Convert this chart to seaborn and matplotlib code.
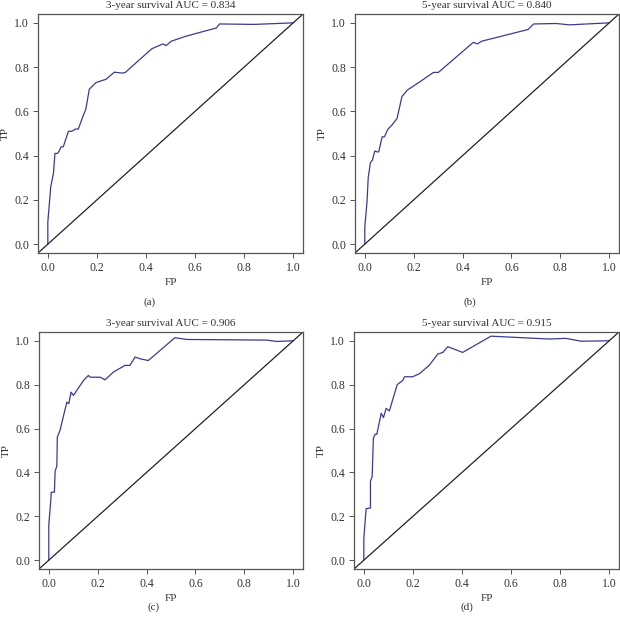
import matplotlib
matplotlib.use("Agg")
import matplotlib.pyplot as plt
import seaborn as sns
import pandas as pd

# ---- data ----
fp_a = [0, 0, 0.012, 0.023, 0.029, 0.040, 0.046, 0.054, 0.063, 0.084, 0.098, 0.112, 0.124, 0.144, 0.155,
        0.169, 0.196, 0.237, 0.271, 0.305, 0.316, 0.373, 0.424, 0.469, 0.482, 0.503, 0.564, 0.687, 0.700,
        0.842, 1.0]
tp_a = [0, 0.10, 0.26, 0.32, 0.41, 0.41, 0.42, 0.44, 0.44, 0.51, 0.51, 0.52, 0.52, 0.58, 0.61,
        0.70, 0.73, 0.745, 0.777, 0.773, 0.776, 0.833, 0.883, 0.905, 0.897, 0.917, 0.94, 0.977, 0.995,
        0.993, 1.0]

fp_b = [0, 0, 0.0095, 0.014, 0.023, 0.031, 0.041, 0.050, 0.057, 0.071, 0.080, 0.095, 0.111, 0.132, 0.152,
        0.175, 0.227, 0.281, 0.301, 0.444, 0.461, 0.478, 0.668, 0.691, 0.783, 0.837, 1.0]
tp_b = [0, 0.076, 0.197, 0.30, 0.368, 0.379, 0.421, 0.417, 0.417, 0.485, 0.485, 0.52, 0.538, 0.568, 0.667,
        0.697, 0.735, 0.776, 0.776, 0.912, 0.905, 0.917, 0.97, 0.995, 0.997, 0.991, 1.0]

fp_c = [0, 0, 0.008, 0.010, 0.023, 0.026, 0.033, 0.035, 0.046, 0.074, 0.082, 0.091, 0.101, 0.114, 0.142,
        0.162, 0.169, 0.210, 0.230, 0.264, 0.312, 0.332, 0.353, 0.373, 0.407, 0.516, 0.564, 0.891, 0.932, 1.0]
tp_c = [0, 0.16, 0.27, 0.31, 0.31, 0.405, 0.43, 0.561, 0.592, 0.721, 0.713, 0.766, 0.751, 0.773, 0.819,
        0.842, 0.834, 0.834, 0.822, 0.857, 0.888, 0.888, 0.926, 0.918, 0.910, 1.014, 1.006, 1.003, 0.997, 1.0]

fp_d = [0, 0, 0.0095, 0.027, 0.027, 0.034, 0.039, 0.046, 0.053, 0.071, 0.080, 0.091, 0.104, 0.136, 0.159,
        0.166, 0.199, 0.227, 0.267, 0.301, 0.322, 0.342, 0.403, 0.518, 0.756, 0.824, 0.885, 1.0]
tp_d = [0, 0.10, 0.235, 0.238, 0.359, 0.382, 0.556, 0.574, 0.574, 0.670, 0.650, 0.692, 0.680, 0.80, 0.82,
        0.836, 0.836, 0.85, 0.889, 0.939, 0.947, 0.973, 0.947, 1.021, 1.008, 1.011, 0.998, 1.0]

titles = ["3-year survival AUC = 0.834", "5-year survival AUC = 0.840",
          "3-year survival AUC = 0.906", "5-year survival AUC = 0.915"]
panel_labels = ["(a)", "(b)", "(c)", "(d)"]
tick_vals = [0.0, 0.2, 0.4, 0.6, 0.8, 1.0]
tick_labels = ["0.0", "0.2", "0.4", "0.6", "0.8", "1.0"]

curves = [(fp_a, tp_a), (fp_b, tp_b), (fp_c, tp_c), (fp_d, tp_d)]

sns.set_theme(style="white")
plt.rcParams["font.family"] = ["Liberation Serif", "DejaVu Serif"]

fig = plt.figure(figsize=(6.2, 6.24), dpi=100)

W, H = 620, 624
boxes = [(38, 14, 303, 253), (355, 14, 619, 253), (39, 332, 303, 569), (354, 332, 619, 569)]
label_pos = [(150, 302), (470, 302), (154, 607), (467, 607)]

line_col = "#3b3b8e"
txt_col = "#333333"

for i, ((fp, tp), (l, t, r, b)) in enumerate(zip(curves, boxes)):
    ax = fig.add_axes([l / W, 1 - b / H, (r - l) / W, (b - t) / H])
    df = pd.DataFrame({"FP": fp, "TP": tp})
    sns.lineplot(data=df, x="FP", y="TP", ax=ax, sort=False, estimator=None,
                 color=line_col, lw=0.9)
    ax.axline((0, 0), (1, 1), color="#222222", lw=0.9)
    ax.set_xlim(-0.04, 1.04)
    ax.set_ylim(-0.04, 1.04)
    ax.set_xticks(tick_vals)
    ax.set_xticklabels(tick_labels)
    ax.set_yticks(tick_vals)
    ax.set_yticklabels(tick_labels)
    ax.tick_params(axis="both", direction="out", length=3.5, width=0.7, color="#555555",
                   labelsize=8.5, labelcolor=txt_col, pad=3, bottom=True, left=True)
    for s in ax.spines.values():
        s.set_color("#555555")
        s.set_linewidth(0.9)
    ax.set_xlabel("FP", fontsize=8, color=txt_col, labelpad=3)
    ax.set_ylabel("TP", fontsize=8, color=txt_col, labelpad=3)
    ax.set_title(titles[i], fontsize=8, color=txt_col, pad=4)
    ax.grid(False)
    lx, ly = label_pos[i]
    fig.text(lx / W, 1 - ly / H, panel_labels[i], ha="center", va="center",
             fontsize=8, color=txt_col)

fig.savefig("out.png", dpi=100)
